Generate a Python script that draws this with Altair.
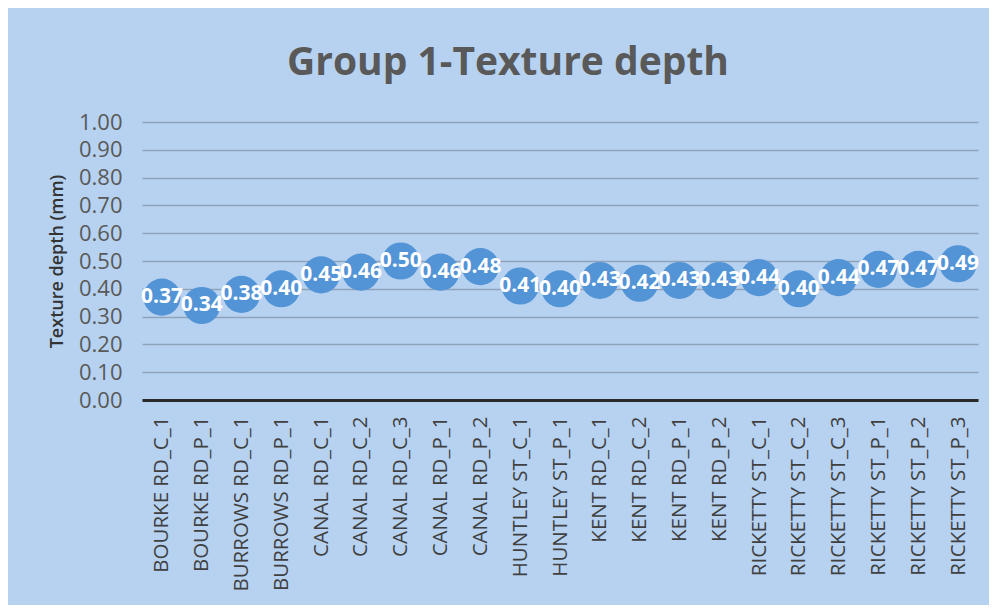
import altair as alt
import pandas as pd

sites = [
    "BOURKE RD_C_1", "BOURKE RD_P_1", "BURROWS RD_C_1", "BURROWS RD_P_1",
    "CANAL RD_C_1", "CANAL RD_C_2", "CANAL RD_C_3", "CANAL RD_P_1", "CANAL RD_P_2",
    "HUNTLEY ST_C_1", "HUNTLEY ST_P_1", "KENT RD_C_1", "KENT RD_C_2",
    "KENT RD_P_1", "KENT RD_P_2", "RICKETTY ST_C_1", "RICKETTY ST_C_2",
    "RICKETTY ST_C_3", "RICKETTY ST_P_1", "RICKETTY ST_P_2", "RICKETTY ST_P_3",
]
depths = [0.37, 0.34, 0.38, 0.40, 0.45, 0.46, 0.50, 0.46, 0.48, 0.41, 0.40,
          0.43, 0.42, 0.43, 0.43, 0.44, 0.40, 0.44, 0.47, 0.47, 0.49]
y_ticks = [0.0, 0.1, 0.2, 0.3, 0.4, 0.5, 0.6, 0.7, 0.8, 0.9, 1.0]

df = pd.DataFrame({"site": sites, "depth": depths})

FONT = "Open Sans"

x = alt.X(
    "site:N", sort=None, title=None,
    scale=alt.Scale(paddingInner=0, paddingOuter=0),
    axis=alt.Axis(
        labelAngle=-90, labelFont=FONT, labelFontSize=20.5, labelColor="#404040",
        labelPadding=16, ticks=False, domain=True, domainColor="#2a2a2a",
        domainWidth=3, grid=False, labelLimit=300,
    ),
)
y = alt.Y(
    "depth:Q", title="Texture depth (mm)",
    scale=alt.Scale(domain=[0, 1], nice=False),
    axis=alt.Axis(
        values=y_ticks, format=".2f", labelFont=FONT, labelFontSize=22,
        labelColor="#595959", labelPadding=20, ticks=False, domain=False,
        gridColor="#8ea3ba", gridWidth=1.5, titleFont=FONT, titleFontSize=18,
        titleFontWeight=600, titleColor="#333333", titlePadding=12,
    ),
)

base = alt.Chart(df).encode(x=x, y=y)

points = base.mark_circle(size=1380, opacity=1, color="#5394d6")
labels = base.mark_text(
    font=FONT, fontSize=21, fontWeight="bold", color="white", baseline="middle"
).encode(text=alt.Text("depth:Q", format=".2f"))

chart = (
    alt.layer(points, labels)
    .properties(
        width=836, height=278, autosize="none",
        padding={"left": 134, "top": 114, "right": 11, "bottom": 205},
        background="#b6d2f0",
        title=alt.TitleParams(
            "Group 1-Texture depth", font=FONT, fontSize=39, fontWeight="bold",
            color="#595959", anchor="middle", dx=-52, offset=28,
        ),
    )
    .configure_view(stroke=None)
)

chart.save("out.html", embed_options={"renderer": "svg", "actions": False})
